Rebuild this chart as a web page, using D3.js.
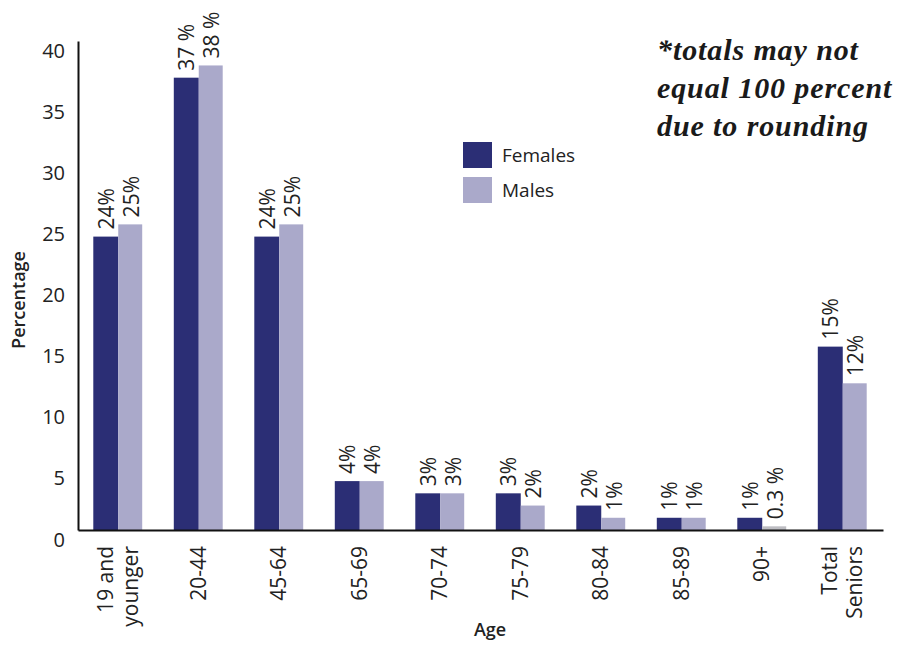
<!DOCTYPE html>
<html>
<head>
<meta charset="utf-8">
<script src="https://cdn.jsdelivr.net/npm/d3@7"></script>
<style>
  body { margin: 0; background: #fff; }
  svg { display: block; }
  text { font-family: "Open Sans", sans-serif; fill: #222; }
</style>
</head>
<body>
<svg width="901" height="645"></svg>
<script>
// data
var ages = ["19 and|younger", "20-44", "45-64", "65-69", "70-74", "75-79", "80-84", "85-89", "90+", "Total|Seniors"];
var females = [24, 37, 24, 4, 3, 3, 2, 1, 1, 15];
var males = [25, 38, 25, 4, 3, 2, 1, 1, 0.3, 12];
var femaleLabels = ["24%", "37 %", "24%", "4%", "3%", "3%", "2%", "1%", "1%", "15%"];
var maleLabels = ["25%", "38 %", "25%", "4%", "3%", "2%", "1%", "1%", "0.3 %", "12%"];
var yTicks = [0, 5, 10, 15, 20, 25, 30, 35, 40];

var svg = d3.select("svg");
var femaleColor = "#2b2e75", maleColor = "#aaa9ca";

var x = d3.scaleBand().domain(ages).range([78, 883]).paddingInner(0.38).paddingOuter(0.19);
var xs = d3.scaleBand().domain(["f", "m"]).range([0, x.bandwidth()]);
var y = d3.scaleLinear().domain([0, 40]).range([530, 41]);

// bars
var groups = svg.selectAll(".grp").data(ages).enter().append("g")
    .attr("transform", function (d) { return "translate(" + x(d) + ",0)"; });

groups.append("rect")
    .attr("x", xs("f"))
    .attr("y", function (d, i) { return y(females[i]); })
    .attr("width", xs.bandwidth())
    .attr("height", function (d, i) { return y(0) - y(females[i]); })
    .style("fill", femaleColor);

groups.append("rect")
    .attr("x", xs("m"))
    .attr("y", function (d, i) { return y(males[i]); })
    .attr("width", xs.bandwidth() - 1)
    .attr("height", function (d, i) { return y(0) - y(males[i]); })
    .style("fill", function (d, i) { return males[i] < 1 ? "#bdbdc2" : maleColor; });

// value labels
groups.append("text")
    .attr("transform", function (d, i) {
        return "translate(" + (xs("f") + xs.bandwidth() / 2 + 8) + "," + (y(females[i]) - 7) + ") rotate(-90)";
    })
    .style("font-size", "21px")
    .text(function (d, i) { return femaleLabels[i]; });

groups.append("text")
    .attr("transform", function (d, i) {
        return "translate(" + (xs("m") + xs.bandwidth() / 2 + 8) + "," + (y(males[i]) - 7) + ") rotate(-90)";
    })
    .style("font-size", "21px")
    .text(function (d, i) { return maleLabels[i]; });

// y axis
var yAxis = svg.append("g").attr("transform", "translate(78,0)")
    .call(d3.axisLeft(y).tickValues(yTicks).tickSize(0).tickPadding(13));
yAxis.select(".domain").attr("stroke", "#111").attr("stroke-width", 2);
yAxis.selectAll("text").style("font-size", "20px").style("font-family", "Open Sans").attr("dy", "0.8em").style("fill", "#222");

// x axis
var xAxis = svg.append("g").attr("transform", "translate(0,530)")
    .call(d3.axisBottom(x).tickSize(0).tickFormat(""));
xAxis.select(".domain").attr("stroke", "#111").attr("stroke-width", 2);

xAxis.selectAll(".tick").each(function (d) {
    var lines = d.split("|");
    var t = d3.select(this).append("text")
        .attr("transform", "translate(0,16) rotate(-90)")
        .attr("text-anchor", "end")
        .style("font-size", "21px")
        .style("fill", "#222");
    lines.forEach(function (l, k) {
        t.append("tspan").attr("x", 0)
            .attr("y", (k - (lines.length - 1) / 2) * 25 + 7)
            .text(l);
    });
});

// axis titles
svg.append("text")
    .attr("transform", "translate(25,300) rotate(-90)")
    .attr("text-anchor", "middle")
    .style("font-size", "18px")
    .style("font-weight", "600")
    .text("Percentage");

svg.append("text")
    .attr("x", 490).attr("y", 636)
    .attr("text-anchor", "middle")
    .style("font-size", "18px")
    .style("font-weight", "600")
    .text("Age");

// legend
var legend = [["Females", femaleColor], ["Males", maleColor]];
var lg = svg.selectAll(".leg").data(legend).enter().append("g")
    .attr("transform", function (d, i) { return "translate(463," + (142 + i * 35) + ")"; });
lg.append("rect").attr("width", 29).attr("height", 26).style("fill", function (d) { return d[1]; });
lg.append("text").attr("x", 39).attr("y", 20).style("font-size", "19px").text(function (d) { return d[0]; });

// note
var note = ["*totals may not", "equal 100 percent", "due to rounding"];
svg.selectAll(".note").data(note).enter().append("text")
    .attr("x", 657)
    .attr("y", function (d, i) { return 60 + i * 38; })
    .style("font-family", "'Liberation Serif', serif")
    .style("font-style", "italic")
    .style("font-weight", "bold")
    .style("font-size", "30px")
    .style("letter-spacing", "0.9px")
    .style("fill", "#1a1a1a")
    .text(function (d) { return d; });
</script>
</body>
</html>
